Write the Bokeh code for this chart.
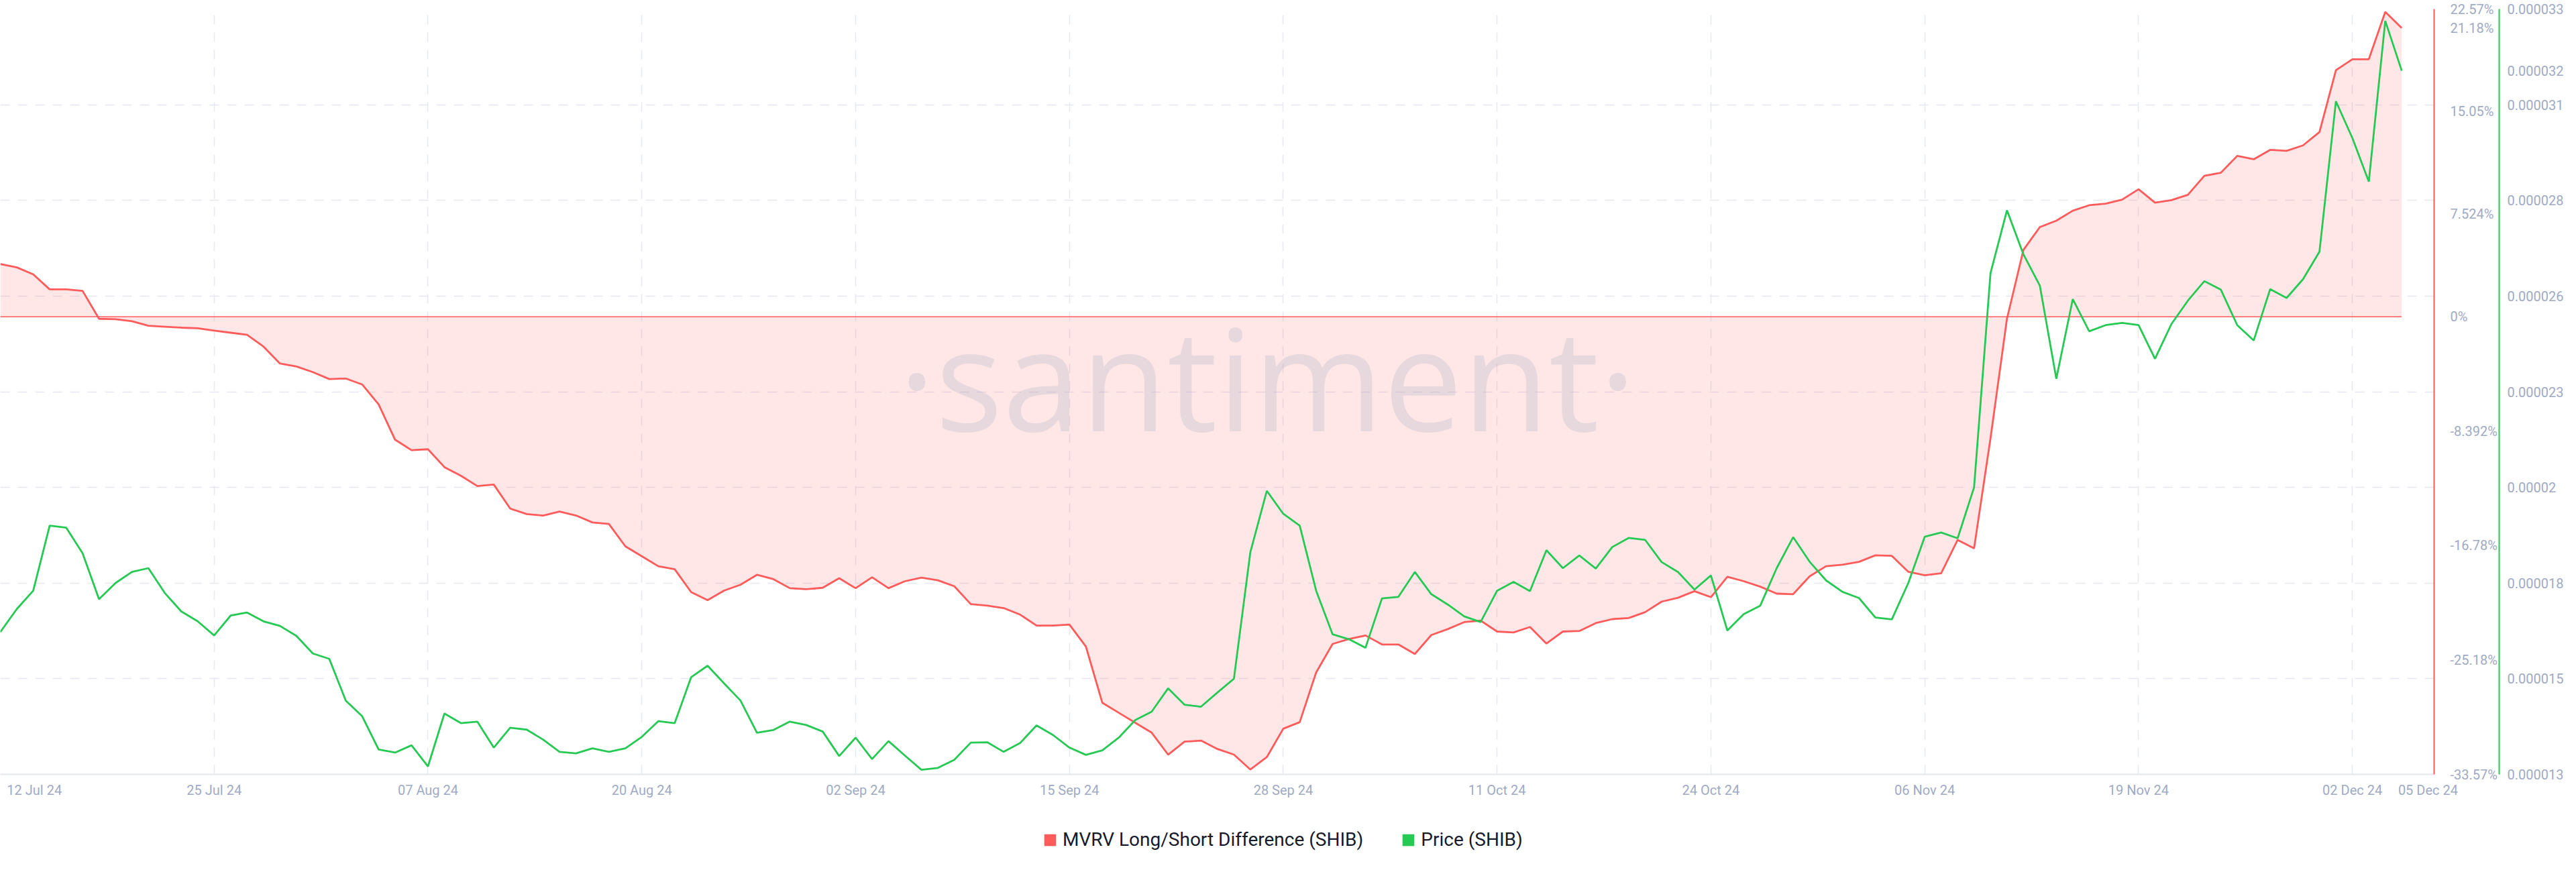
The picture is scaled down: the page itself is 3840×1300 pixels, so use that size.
import pandas as pd
from bokeh.plotting import figure
from bokeh.models import (Range1d, LinearAxis, FixedTicker, CustomJSTickFormatter,
                          Grid, Label, Legend, LegendItem)
from bokeh.layouts import column
from bokeh.embed import file_html
from bokeh.resources import INLINE

# ---------------- data ----------------
start_date = "2024-07-12"

mvrv = [3.87, 3.62, 3.11, 2.01, 2.01, 1.90, -0.15, -0.18, -0.33, -0.66,
        -0.73, -0.80, -0.84, -1.02, -1.17, -1.32, -2.19, -3.43, -3.65, -4.06,
        -4.57, -4.53, -4.97, -6.43, -9.02, -9.79, -9.72, -11.03, -11.66, -12.42,
        -12.31, -14.07, -14.47, -14.58, -14.29, -14.58, -15.09, -15.20, -16.84, -17.57,
        -18.30, -18.52, -20.20, -20.79, -20.09, -19.66, -18.93, -19.25, -19.91, -19.98,
        -19.88, -19.18, -19.91, -19.11, -19.91, -19.40, -19.14, -19.33, -19.77, -21.08,
        -21.19, -21.37, -21.85, -22.65, -22.65, -22.58, -24.19, -28.32, -29.05, -29.78,
        -30.51, -32.12, -31.17, -31.09, -31.71, -32.12, -33.21, -32.30, -30.22, -29.74,
        -26.09, -24.00, -23.64, -23.38, -24.04, -24.04, -24.74, -23.35, -22.91, -22.40,
        -22.29, -23.09, -23.16, -22.76, -23.97, -23.09, -23.05, -22.47, -22.18, -22.10,
        -21.67, -20.90, -20.61, -20.13, -20.57, -19.07, -19.40, -19.80, -20.31, -20.35,
        -19.04, -18.30, -18.19, -17.98, -17.50, -17.54, -18.71, -18.96, -18.82, -16.37,
        -16.99, -8.91, -0.15, 4.90, 6.58, 7.05, 7.78, 8.18, 8.29, 8.59,
        9.35, 8.37, 8.55, 8.95, 10.34, 10.56, 11.80, 11.55, 12.24, 12.17,
        12.57, 13.55, 18.09, 18.89, 18.89, 22.36, 21.18]

price = [16.72e-6, 17.32e-6, 17.80e-6, 19.50e-6, 19.45e-6, 18.78e-6, 17.58e-6, 18.00e-6, 18.29e-6, 18.39e-6,
         17.74e-6, 17.26e-6, 17.00e-6, 16.63e-6, 17.15e-6, 17.23e-6, 17.00e-6, 16.88e-6, 16.62e-6, 16.16e-6,
         16.02e-6, 14.93e-6, 14.52e-6, 13.65e-6, 13.57e-6, 13.76e-6, 13.21e-6, 14.59e-6, 14.34e-6, 14.38e-6,
         13.70e-6, 14.22e-6, 14.17e-6, 13.91e-6, 13.59e-6, 13.55e-6, 13.68e-6, 13.59e-6, 13.68e-6, 13.98e-6,
         14.39e-6, 14.34e-6, 15.54e-6, 15.84e-6, 15.38e-6, 14.93e-6, 14.09e-6, 14.16e-6, 14.38e-6, 14.29e-6,
         14.12e-6, 13.48e-6, 13.96e-6, 13.40e-6, 13.87e-6, 13.49e-6, 13.12e-6, 13.17e-6, 13.38e-6, 13.83e-6,
         13.84e-6, 13.59e-6, 13.82e-6, 14.28e-6, 14.03e-6, 13.70e-6, 13.51e-6, 13.63e-6, 13.96e-6, 14.42e-6,
         14.64e-6, 15.25e-6, 14.82e-6, 14.77e-6, 15.14e-6, 15.50e-6, 18.81e-6, 20.41e-6, 19.81e-6, 19.50e-6,
         17.80e-6, 16.66e-6, 16.53e-6, 16.31e-6, 17.60e-6, 17.64e-6, 18.29e-6, 17.71e-6, 17.44e-6, 17.13e-6,
         16.98e-6, 17.80e-6, 18.03e-6, 17.79e-6, 18.86e-6, 18.39e-6, 18.72e-6, 18.38e-6, 18.94e-6, 19.18e-6,
         19.13e-6, 18.55e-6, 18.29e-6, 17.83e-6, 18.20e-6, 16.76e-6, 17.19e-6, 17.41e-6, 18.39e-6, 19.20e-6,
         18.56e-6, 18.07e-6, 17.77e-6, 17.61e-6, 17.10e-6, 17.05e-6, 18.00e-6, 19.21e-6, 19.32e-6, 19.17e-6,
         20.50e-6, 26.10e-6, 27.74e-6, 26.59e-6, 25.77e-6, 23.34e-6, 25.42e-6, 24.58e-6, 24.74e-6, 24.80e-6,
         24.74e-6, 23.86e-6, 24.77e-6, 25.38e-6, 25.89e-6, 25.67e-6, 24.74e-6, 24.34e-6, 25.68e-6, 25.45e-6,
         25.94e-6, 26.66e-6, 30.59e-6, 29.63e-6, 28.49e-6, 32.69e-6, 31.39e-6]

x_grid_dates = ["2024-07-12", "2024-07-25", "2024-08-07", "2024-08-20", "2024-09-02", "2024-09-15",
                "2024-09-28", "2024-10-11", "2024-10-24", "2024-11-06", "2024-11-19", "2024-12-02"]
x_tick_labels = ["12 Jul 24", "25 Jul 24", "07 Aug 24", "20 Aug 24", "02 Sep 24", "15 Sep 24",
                 "28 Sep 24", "11 Oct 24", "24 Oct 24", "06 Nov 24", "19 Nov 24", "02 Dec 24", "05 Dec 24"]

mvrv_ticks = [22.57, 15.05, 7.524, 0.0, -8.392, -16.78, -25.18, -33.57]
mvrv_tick_labels = ["22.57%", "15.05%", "7.524%", "0%", "-8.392%", "-16.78%", "-25.18%", "-33.57%"]

price_ticks = [33e-6, 30.5e-6, 28e-6, 25.5e-6, 23e-6, 20.5e-6, 18e-6, 15.5e-6, 13e-6]
price_tick_labels = ["0.000033", "0.000031", "0.000028", "0.000026", "0.000023",
                     "0.00002", "0.000018", "0.000015", "0.000013"]
price_last_text = "0.000032"

series_names = ["MVRV Long/Short Difference (SHIB)", "Price (SHIB)"]

# ---------------- styling ----------------
RED = "#ff5b5b"
GREEN = "#26c953"
AXIS_TXT = "#9faac4"
GRID = "#e6e8f1"
FONT = "Roboto"

dates = pd.date_range(start_date, periods=len(mvrv), freq="D")
DAY = 86400000.0
def ms(d):
    return pd.Timestamp(d).timestamp() * 1000.0

x0 = ms(dates[0])
x1 = ms(dates[-1]) + 1.97 * DAY

label_pos = [ms(d) for d in x_grid_dates]
label_pos[0] = x0 + 2.07 * DAY               # first label nudged inside the frame
label_pos.append(ms(dates[-1]) + 1.6 * DAY)   # last-date label

p = figure(width=3824, height=1192, x_axis_type="datetime", y_axis_location=None,
           x_range=Range1d(x0, x1), y_range=Range1d(mvrv_ticks[-1], mvrv_ticks[0]),
           output_backend="svg", toolbar_location=None,
           min_border_left=0, min_border_right=0, min_border_top=13, min_border_bottom=0)
p.extra_y_ranges = {"price": Range1d(price_ticks[-1], price_ticks[0])}
p.outline_line_color = None
p.background_fill_color = "white"
p.border_fill_color = "white"

lookup = ("let b = 0, bd = Infinity;"
          "for (let i = 0; i < vals.length; i++) { const d = Math.abs(vals[i] - tick);"
          " if (d < bd) { bd = d; b = i; } } return labs[b];")

# x axis
xa = p.xaxis[0]
xa.ticker = FixedTicker(ticks=label_pos)
xa.formatter = CustomJSTickFormatter(args=dict(vals=label_pos, labs=x_tick_labels), code=lookup)
xa.axis_line_color = "#e4e7f0"
xa.axis_line_width = 2
xa.major_tick_line_color = None
xa.minor_tick_line_color = None
xa.major_tick_out = 0
xa.minor_tick_out = 0
xa.major_label_standoff = 11
xa.major_label_text_font = FONT
xa.major_label_text_font_size = "20px"
xa.major_label_text_color = AXIS_TXT

p.xgrid.ticker = FixedTicker(ticks=[ms(d) for d in x_grid_dates])
p.xgrid.grid_line_color = GRID
p.xgrid.grid_line_width = 1.5
p.xgrid.grid_line_dash = "14 12"
p.ygrid.visible = False

ygrid = Grid(dimension=1, ticker=FixedTicker(ticks=price_ticks), y_range_name="price",
             grid_line_color=GRID, grid_line_width=1.5, grid_line_dash="14 12")
p.add_layout(ygrid, "center")

# right axes (the last values are shown as extra labels on each axis)
red_vals = mvrv_ticks + [mvrv[-1]]
red_labs = mvrv_tick_labels + [f"{mvrv[-1]:.2f}%"]
green_vals = price_ticks + [price[-1]]
green_labs = price_tick_labels + [price_last_text]

red_axis = LinearAxis(ticker=FixedTicker(ticks=red_vals),
                      formatter=CustomJSTickFormatter(args=dict(vals=red_vals, labs=red_labs), code=lookup))
green_axis = LinearAxis(y_range_name="price", ticker=FixedTicker(ticks=green_vals),
                        formatter=CustomJSTickFormatter(args=dict(vals=green_vals, labs=green_labs), code=lookup))
for ax, col, so in ((red_axis, RED, 24), (green_axis, GREEN, 12)):
    ax.axis_line_color = col
    ax.axis_line_width = 2
    ax.major_tick_line_color = None
    ax.minor_tick_line_color = None
    ax.major_tick_out = 0
    ax.minor_tick_out = 0
    ax.major_label_standoff = so
    ax.major_label_text_font = FONT
    ax.major_label_text_font_size = "20px"
    ax.major_label_text_color = AXIS_TXT
p.add_layout(red_axis, "right")
p.add_layout(green_axis, "right")

# series
p.varea(x=dates, y1=0, y2=mvrv, fill_color=RED, fill_alpha=0.15)
p.segment(x0=[dates[0]], x1=[dates[-1]], y0=[0], y1=[0], line_color=RED, line_width=1.5)
p.line(x=dates, y=mvrv, line_color=RED, line_width=2.8)
p.line(x=dates, y=price, line_color=GREEN, line_width=2.8, y_range_name="price")

# watermark
p.add_layout(Label(x=x0 + 0.5206 * (x1 - x0),
                   y=mvrv_ticks[0] - 0.481 * (mvrv_ticks[0] - mvrv_ticks[-1]),
                   text="\u00b7santiment\u00b7", text_font="Open Sans", text_font_size="210px",
                   text_color=AXIS_TXT, text_alpha=0.25, text_align="center",
                   text_baseline="alphabetic"))

# legend strip
H2 = 92
p2 = figure(width=3824, height=H2, x_range=Range1d(0, 1), y_range=Range1d(0, 1),
            x_axis_location=None, y_axis_location=None, output_backend="svg",
            toolbar_location=None, min_border=0)
p2.outline_line_color = None
p2.grid.visible = False
off = dict(left=[2], right=[3], bottom=[2], top=[3], line_color=None)   # outside the visible range
r1 = p2.quad(fill_color=RED, **off)
r2 = p2.quad(fill_color=GREEN, **off)
legend = Legend(items=[LegendItem(label=series_names[0], renderers=[r1]),
                       LegendItem(label=series_names[1], renderers=[r2])],
                location=(1554, 16), orientation="horizontal",
                label_text_font=FONT, label_text_font_size="28px", label_text_color="#181b2b",
                glyph_width=22, glyph_height=22, label_standoff=8, spacing=56,
                padding=6, margin=0, border_line_color=None, background_fill_alpha=0)
p2.add_layout(legend, "center")

layout = column(p, p2, spacing=0)
open("out.html", "w").write(file_html(layout, INLINE))
